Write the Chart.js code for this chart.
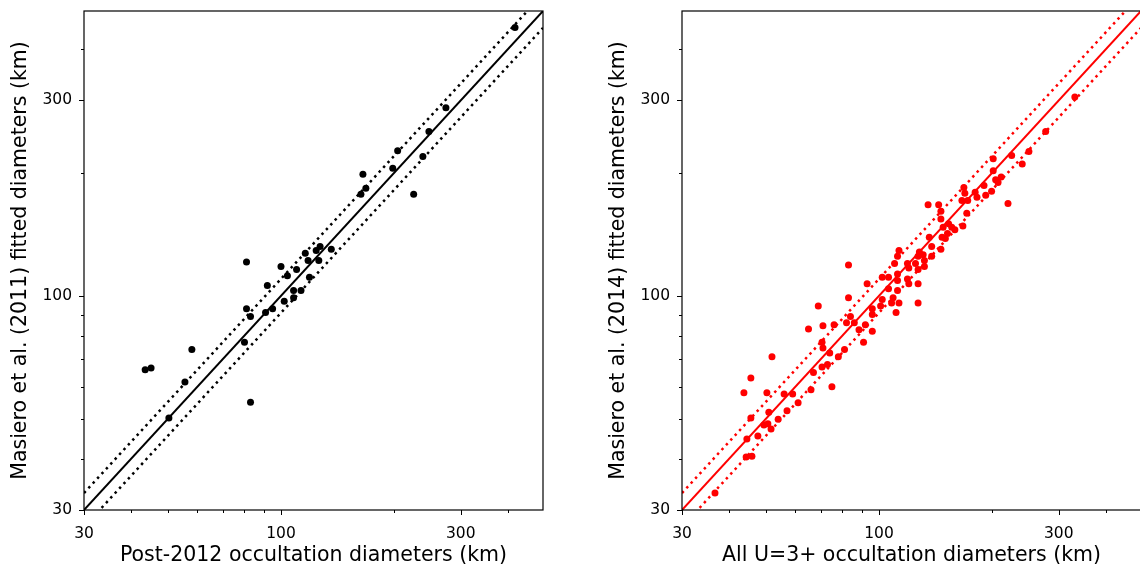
<!DOCTYPE html>
<html>
<head>
<meta charset="utf-8">
<script src="https://cdn.jsdelivr.net/npm/chart.js@4"></script>
<style>
  html, body { margin: 0; padding: 0; background: #fff; overflow: hidden; }
  #left { position: absolute; left: 0; top: 0; }
  #right { position: absolute; left: 598px; top: 0; }
</style>
</head>
<body>
<canvas id="left" width="570" height="569"></canvas>
<canvas id="right" width="547" height="569"></canvas>
<script>
// left panel: post-2012 occultations vs Masiero 2011
const leftX = [418, 274, 247, 204, 238, 198, 165, 168, 163, 225, 81, 100, 110, 104, 127, 136, 124, 116, 118, 126,
  119, 92, 108, 113, 108, 102, 95, 91, 81, 83, 80, 58, 43.6, 45.2, 55.6, 50.4, 83];
const leftY = [452, 288, 252, 226, 219, 205, 198, 183, 177, 177, 121, 118, 116, 112, 132, 130, 129, 127, 122, 122,
  111, 106, 103, 103, 99, 97, 93, 91, 93, 89, 77, 74, 66, 66.7, 61.6, 50.3, 55];

// right panel: all U=3+ occultations vs Masiero 2014
const rightX = [331, 277, 250, 240, 201, 225, 201, 211, 204, 207, 199, 190, 192, 182, 180, 168, 169, 166, 172, 220,
  171, 167, 156, 135, 144, 146, 146, 153, 148, 159, 152, 147, 150, 136, 138, 146, 138, 128, 131, 127,
  113, 112, 132, 125, 119, 110, 132, 120, 127, 83, 112, 102, 106, 119, 112, 120, 127, 93, 106, 83,
  109, 102, 108, 113, 127, 96, 101, 111, 96, 84, 76, 82, 86, 92, 88.5, 96, 69, 65, 71, 91,
  70.6, 81, 74, 71, 78, 73, 70.6, 67, 75, 66, 52, 45.7, 43.8, 50.4, 56, 59, 61, 57, 51, 45.7,
  54, 49.5, 50.7, 51.7, 47.7, 44.6, 44.4, 46, 36.7, 112];
const rightY = [306, 252, 225, 210, 216, 220, 202, 195, 192, 189, 180, 186, 176, 174, 179, 184, 178, 171, 171, 168,
  159, 148, 147, 167, 167, 161, 154, 150, 147, 145, 142, 139, 138, 139, 132, 130, 125, 128, 126, 125,
  129, 125, 122, 120, 120, 120, 118, 117, 116, 119, 113, 111, 111, 110, 109, 107, 107, 107, 104, 99,
  99, 98, 96, 96, 96, 93, 94.5, 91, 90, 89, 85, 86, 86, 85, 82.6, 82, 94.5, 83, 84.5, 77,
  77, 74, 72.5, 74.6, 71, 68, 67, 65, 60, 59, 71, 63, 58, 58, 57.6, 57.6, 54.8, 52.4, 52, 50.3,
  50, 48.4, 48.7, 47.3, 45.5, 44.7, 40.4, 40.6, 33, 103];

// 1:1 line and +/-10% lines (end points)
const lineX = [30, 496];
const oneToOne = [30, 496];
const plusTen = [33, 545.6];
const minusTen = [27.27, 450.9];

const axisMin = 30;
const axisMax = 496;
const tickValues = [30, 40, 50, 60, 70, 80, 90, 100, 200, 300, 400];
const tickLabels = [30, 100, 300];

const FONT = 'DejaVu Sans';

function pts(xs, ys) {
  return xs.map((x, i) => ({ x: x, y: ys[i] }));
}

// frame + matplotlib-like major/minor ticks
const frameTicks = {
  id: 'frameTicks',
  afterDraw(chart) {
    const ctx = chart.ctx;
    const a = chart.chartArea;
    ctx.save();
    ctx.strokeStyle = '#000';
    ctx.lineWidth = 1;
    ['x', 'y'].forEach(id => {
      const s = chart.scales[id];
      s.ticks.forEach(t => {
        const len = tickLabels.includes(t.value) ? 5 : 3;
        const p = Math.round(s.getPixelForValue(t.value)) + 0.5;
        ctx.beginPath();
        if (id === 'x') { ctx.moveTo(p, a.bottom); ctx.lineTo(p, a.bottom + len); }
        else { ctx.moveTo(a.left, p); ctx.lineTo(a.left - len, p); }
        ctx.stroke();
      });
    });
    ctx.lineWidth = 1.2;
    ctx.strokeRect(a.left, a.top, a.right - a.left, a.bottom - a.top);
    ctx.restore();
  }
};

function logAxis(titleText, isX) {
  return {
    type: 'logarithmic',
    min: axisMin,
    max: axisMax,
    afterBuildTicks: s => { s.ticks = tickValues.map(v => ({ value: v, major: tickLabels.includes(v) })); },
    afterFit: s => {
      if (isX) { s.height = 59; s.paddingLeft = 0; s.paddingRight = 0; }
      else { s.width = 84; s.paddingTop = 0; s.paddingBottom = 0; }
    },
    border: { display: false },
    grid: { drawOnChartArea: false, drawTicks: true, tickLength: 5, tickColor: 'rgba(0,0,0,0)' },
    ticks: {
      autoSkip: false,
      maxRotation: 0,
      padding: isX ? 10 : 7,
      color: '#000',
      font: { family: FONT, size: 15.5 },
      callback: v => tickLabels.includes(v) ? String(v) : ''
    },
    title: {
      display: true,
      text: titleText,
      color: '#000',
      font: { family: FONT, size: 20.5 },
      padding: isX ? { top: 0, bottom: 1 } : { top: 8, bottom: 0 }
    }
  };
}

function makePanel(el, xs, ys, colour, xTitle, yTitle, padRight) {
  return new Chart(el, {
    type: 'scatter',
    data: {
      datasets: [
        {
          data: pts(xs, ys),
          backgroundColor: colour,
          borderWidth: 0,
          pointRadius: 3.5
        },
        {
          type: 'line',
          data: pts(lineX, oneToOne),
          borderColor: colour,
          borderWidth: 2,
          pointRadius: 0
        },
        {
          type: 'line',
          data: pts(lineX, plusTen),
          borderColor: colour,
          borderWidth: 2.5,
          borderDash: [2.5, 4],
          pointRadius: 0
        },
        {
          type: 'line',
          data: pts(lineX, minusTen),
          borderColor: colour,
          borderWidth: 2.5,
          borderDash: [2.5, 4],
          pointRadius: 0
        }
      ]
    },
    options: {
      responsive: false,
      animation: false,
      layout: { padding: { top: 11, right: padRight, left: 0, bottom: 0 } },
      plugins: { legend: { display: false }, tooltip: { enabled: false } },
      scales: {
        x: logAxis(xTitle, true),
        y: logAxis(yTitle, false)
      }
    },
    plugins: [frameTicks]
  });
}

makePanel(document.getElementById('left'), leftX, leftY, '#000000',
  'Post-2012 occultation diameters (km)', 'Masiero et al. (2011) fitted diameters (km)', 27);
makePanel(document.getElementById('right'), rightX, rightY, '#ff0000',
  'All U=3+ occultation diameters (km)', 'Masiero et al. (2014) fitted diameters (km)', 0);
</script>
</body>
</html>
